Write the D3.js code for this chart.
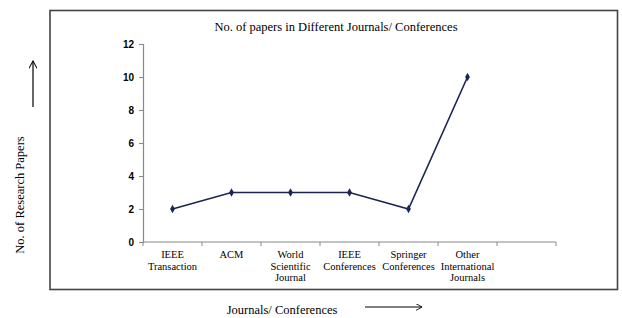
<!DOCTYPE html>
<html>
<head>
<meta charset="utf-8">
<script src="https://cdn.jsdelivr.net/npm/d3@7"></script>
<style>
  body { margin: 0; background: #fff; }
  svg text { fill: #000; }
  .serif { font-family: 'Liberation Serif', 'Times New Roman', 'DejaVu Serif', serif; }
</style>
</head>
<body>
<svg id="chart" width="622" height="318"></svg>
<script>
// categories (last slot is left empty, as in the original sheet)
const categories = [
    ['IEEE', 'Transaction'],
    ['ACM'],
    ['World', 'Scientific', 'Journal'],
    ['IEEE', 'Conferences'],
    ['Springer', 'Conferences'],
    ['Other', 'International', 'Journals'],
    ['']
];
const paperCounts = [2, 3, 3, 3, 2, 10];
const yTicks = [0, 2, 4, 6, 8, 10, 12];

const svg = d3.select('#chart');

// outer frame
svg.append('rect')
    .attr('x', 50).attr('y', 10.5)
    .attr('width', 567.5).attr('height', 279)
    .attr('fill', 'none')
    .attr('stroke', '#444')
    .attr('stroke-width', 1.6);

const plot = { left: 143, right: 556, top: 44, bottom: 242 };

const x = d3.scaleBand()
    .domain(d3.range(categories.length))
    .range([plot.left, plot.right]);

const y = d3.scaleLinear()
    .domain([0, 12])
    .range([plot.bottom, plot.top]);

// y axis
const yAxis = svg.append('g')
    .attr('transform', `translate(${plot.left},0)`)
    .call(d3.axisLeft(y).tickValues(yTicks).tickSize(4).tickPadding(5));
yAxis.select('.domain').attr('stroke', '#888').attr('stroke-width', 1.2);
yAxis.selectAll('.tick line').attr('stroke', '#888');
yAxis.selectAll('.tick text')
    .attr('font-family', 'Liberation Sans, Arial, sans-serif')
    .attr('font-weight', 'bold')
    .attr('font-size', '10px')
    .attr('fill', '#222');

// x axis line + ticks at band boundaries
const xAxis = svg.append('g');
xAxis.append('line')
    .attr('x1', plot.left).attr('x2', plot.right)
    .attr('y1', plot.bottom).attr('y2', plot.bottom)
    .attr('stroke', '#888').attr('stroke-width', 1.2);
const boundaries = d3.range(categories.length + 1).map(i => plot.left + i * x.step());
xAxis.selectAll('line.tick')
    .data(boundaries)
    .join('line')
    .attr('class', 'tick')
    .attr('x1', d => d).attr('x2', d => d)
    .attr('y1', plot.bottom).attr('y2', plot.bottom + 4)
    .attr('stroke', '#888');

// category labels
categories.forEach((lines, i) => {
    const t = svg.append('text')
        .attr('class', 'serif')
        .attr('x', x(i) + x.bandwidth() / 2)
        .attr('y', 258)
        .attr('text-anchor', 'middle')
        .attr('font-size', '10.5px');
    lines.forEach((ln, j) => {
        t.append('tspan')
            .attr('x', x(i) + x.bandwidth() / 2)
            .attr('dy', j === 0 ? 0 : 11.5)
            .text(ln);
    });
});

// series line
const lineColor = '#1b2550';
const line = d3.line()
    .x((d, i) => x(i) + x.bandwidth() / 2)
    .y(d => y(d));

svg.append('path')
    .datum(paperCounts)
    .attr('d', line)
    .attr('fill', 'none')
    .attr('stroke', lineColor)
    .attr('stroke-width', 1.6);

// diamond markers
svg.selectAll('path.marker')
    .data(paperCounts)
    .join('path')
    .attr('class', 'marker')
    .attr('d', d3.symbol().type(d3.symbolDiamond).size(20))
    .attr('transform', (d, i) => `translate(${x(i) + x.bandwidth() / 2},${y(d)})`)
    .attr('fill', lineColor);

// title
svg.append('text')
    .attr('class', 'serif')
    .attr('x', 336).attr('y', 31)
    .attr('text-anchor', 'middle')
    .attr('font-size', '12.5px')
    .text('No. of papers in Different Journals/ Conferences');

// y axis title + arrow
svg.append('text')
    .attr('class', 'serif')
    .attr('transform', 'translate(24,195) rotate(-90)')
    .attr('text-anchor', 'middle')
    .attr('font-size', '12.5px')
    .text('No. of Research Papers');

const defs = svg.append('defs');
defs.append('marker')
    .attr('id', 'arrowhead')
    .attr('viewBox', '0 0 10 10')
    .attr('refX', 9).attr('refY', 5)
    .attr('markerWidth', 7).attr('markerHeight', 7)
    .attr('orient', 'auto')
    .append('path')
    .attr('d', 'M0,0 L9,5 L0,10')
    .attr('fill', 'none')
    .attr('stroke', '#000')
    .attr('stroke-width', 1.2);

svg.append('line')
    .attr('x1', 33).attr('x2', 33)
    .attr('y1', 107).attr('y2', 61)
    .attr('stroke', '#000').attr('stroke-width', 1.2)
    .attr('marker-end', 'url(#arrowhead)');

// x axis title + arrow
svg.append('text')
    .attr('class', 'serif')
    .attr('x', 282).attr('y', 314)
    .attr('text-anchor', 'middle')
    .attr('font-size', '12.5px')
    .text('Journals/ Conferences');

svg.append('line')
    .attr('x1', 365).attr('x2', 422)
    .attr('y1', 307).attr('y2', 307)
    .attr('stroke', '#000').attr('stroke-width', 1)
    .attr('marker-end', 'url(#arrowhead)');
</script>
</body>
</html>
